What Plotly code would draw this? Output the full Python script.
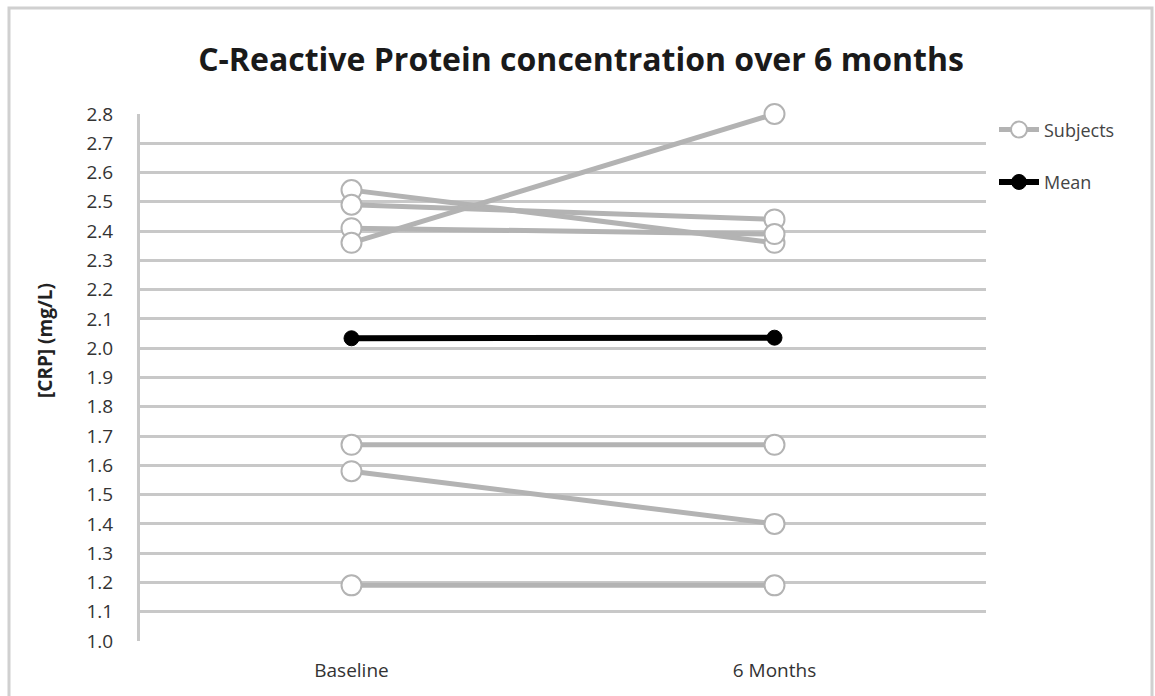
import plotly.graph_objects as go

categories = ["Baseline", "6 Months"]
subjects = [
    [2.54, 2.36],
    [2.49, 2.44],
    [2.41, 2.39],
    [2.36, 2.80],
    [1.67, 1.67],
    [1.58, 1.40],
    [1.19, 1.19],
]
mean_vals = [2.034, 2.036]
y_ticks = [round(1.0 + 0.1 * i, 1) for i in range(19)]

FONT = "'Open Sans', sans-serif"
L, R, T, B = 140, 986, 114, 641
PW, PH = R - L, B - T

fig = go.Figure()

for i, s in enumerate(subjects):
    fig.add_trace(go.Scatter(
        x=[0, 1], y=s, mode="lines+markers", name="Subjects",
        legendgroup="Subjects", showlegend=(i == 0), cliponaxis=False,
        line=dict(color="#b3b3b3", width=5),
        marker=dict(size=20, color="white", line=dict(color="#b3b3b3", width=2)),
    ))

fig.add_trace(go.Scatter(
    x=[0, 1], y=mean_vals, mode="lines+markers", name="Mean", cliponaxis=False,
    line=dict(color="black", width=6),
    marker=dict(size=15, color="black", line=dict(color="black", width=1)),
))

fig.update_layout(
    width=1155, height=696,
    margin=dict(l=L, r=1155 - R, t=T, b=696 - B),
    paper_bgcolor="white", plot_bgcolor="white",
    title=dict(text="<b>C-Reactive Protein concentration over 6 months</b>",
               x=(581 - L) / PW, xref="paper", xanchor="center",
               y=(696 - 60) / 696, yanchor="middle",
               font=dict(family=FONT, size=32, color="#1a1a1a")),
    font=dict(family=FONT, color="#333333"),
    legend=dict(x=(994 - L) / PW, xanchor="left", y=1.005, yanchor="top",
                font=dict(size=18, color="#444444"), tracegroupgap=26,
                itemwidth=40, bgcolor="rgba(0,0,0,0)"),
    xaxis=dict(range=[-0.5, 1.5], tickvals=[0, 1], ticktext=categories,
               showgrid=False, zeroline=False, showline=False,
               tickfont=dict(size=19, color="#333333"), ticks="", ticklen=0,
               ticklabelstandoff=16),
    yaxis=dict(range=[1.0, 2.8], tickvals=y_ticks,
               ticktext=[f"{v:.1f}" for v in y_ticks],
               showgrid=True, gridcolor="#c8c8c8", gridwidth=3,
               zeroline=False, showline=True, linecolor="#c8c8c8", linewidth=3,
               tickfont=dict(size=19, color="#333333"), ticks="", ticklen=0,
               ticklabelstandoff=20),
    annotations=[dict(text="<b>[CRP] (mg/L)</b>", textangle=-90,
                      xref="paper", yref="paper",
                      x=(45 - L) / PW, y=(B - 341) / PH,
                      xanchor="center", yanchor="middle", showarrow=False,
                      font=dict(family=FONT, size=19, color="#222222"))],
    shapes=[dict(type="rect", xref="paper", yref="paper",
                 x0=(9 - L) / PW, x1=(1152 - L) / PW,
                 y0=(B - 705) / PH, y1=(B - 8) / PH,
                 line=dict(color="#d0d0d0", width=3), layer="below")],
)

fig.write_html("out.html")
